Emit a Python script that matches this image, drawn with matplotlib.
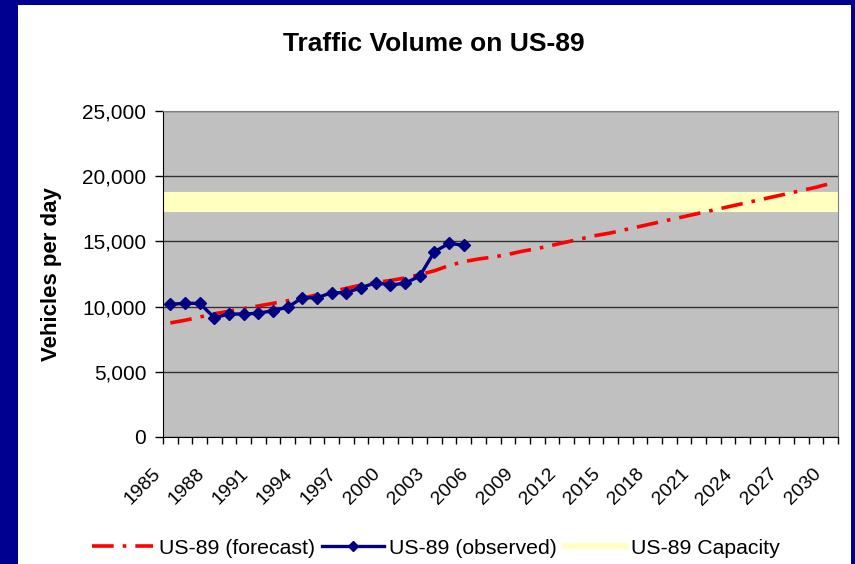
import matplotlib
matplotlib.use('Agg')
import matplotlib.pyplot as plt
import matplotlib.transforms as mtrans
from matplotlib.patches import Rectangle
from matplotlib.lines import Line2D
from matplotlib.ticker import FuncFormatter
import numpy as np

plt.rcParams['font.family'] = ['Liberation Sans', 'DejaVu Sans']

# data
years = list(range(1985, 2031))
forecast = [8750, 8950, 9200, 9450, 9650, 9850, 10050, 10250, 10450, 10650,
            10900, 11150, 11400, 11650, 11850, 12000, 12200, 12450, 12750, 13150,
            13450, 13650, 13800, 14000, 14250, 14450, 14700, 14950, 15200, 15450,
            15650, 15900, 16150, 16400, 16650, 16900, 17150, 17400, 17650, 17900,
            18150, 18400, 18650, 18900, 19150, 19450]
obs_years = list(range(1985, 2006))
observed = [10180, 10250, 10250, 9150, 9430, 9430, 9490, 9690, 9950, 10680,
            10680, 11070, 11070, 11450, 11830, 11660, 11790, 12350, 14210, 14850,
            14700]
capacity = [18000] * len(years)
label_years = years[::3]

W, H = 855, 564
fig = plt.figure(figsize=(W / 100, H / 100), dpi=100)
fig.patch.set_facecolor('#000090')
fig.patches.append(Rectangle((18 / W, -0.05), (851 - 18) / W, 1.05 - 5 / H,
                             transform=fig.transFigure, facecolor='white',
                             edgecolor='none', zorder=-10))

ax = fig.add_axes([163 / W, (H - 437) / H, 675 / W, 326 / H])
ax.set_facecolor('#C0C0C0')

cap_line, = ax.plot(years, capacity, color='#FFFFC0', lw=14.5,
                    solid_capstyle='projecting', zorder=2)
fc_line, = ax.plot(years, forecast, color='#FF0000', lw=2.6,
                   dashes=[6, 2.5, 1, 2.5], zorder=3)
ob_line, = ax.plot(obs_years, observed, color='#000080', lw=2.4,
                   marker='D', markersize=6.5, zorder=4)

ax.set_xlim(1984.5, 2030.5)
ax.set_ylim(0, 25000)
ax.set_yticks(range(0, 25001, 5000))
ax.yaxis.set_major_formatter(FuncFormatter(lambda v, p: f'{v:,.0f}'))
ax.grid(axis='y', color='#333333', lw=1)
ax.set_axisbelow(True)

ax.set_xticks(label_years)
ax.set_xticklabels([str(y) for y in label_years], rotation=45,
                   ha='right', va='top', fontsize=14)
ax.set_xticks(np.arange(1984.5, 2031, 1), minor=True)
ax.tick_params(axis='x', which='major', length=0, pad=20.5)
ax.tick_params(axis='x', which='minor', length=5, width=1, direction='out')
ax.tick_params(axis='y', length=6, width=1, pad=6, labelsize=15)
offset = mtrans.ScaledTranslation(-6.5 / 100, 0, fig.dpi_scale_trans)
for lab in ax.get_xticklabels():
    lab.set_transform(lab.get_transform() + offset)

for s in ['left', 'bottom']:
    ax.spines[s].set_color('black')
for s in ['top', 'right']:
    ax.spines[s].set_color('#808080')

fig.text(434 / W, 1 - 44 / H, 'Traffic Volume on US-89', ha='center',
         va='center', fontsize=19, fontweight='bold')
fig.text(52 / W, 1 - 274 / H, 'Vehicles per day', ha='center', va='center',
         rotation=90, fontsize=16, fontweight='bold')

handles = [Line2D([], [], color='#FF0000', lw=2.6, dashes=[6, 2.5, 1, 2.5]),
           Line2D([], [], color='#000080', lw=2.4, marker='D', markersize=5),
           Line2D([], [], color='#FFFFC0', lw=4)]
labels = ['US-89 (forecast)', 'US-89 (observed)', 'US-89 Capacity']
fig.legend(handles, labels, loc='center', bbox_to_anchor=(436 / W, 16 / H),
           ncol=3, frameon=False, fontsize=15.3, handlelength=2.9,
           handletextpad=0.25, columnspacing=0.35)

fig.savefig('out.png', dpi=100, facecolor=fig.get_facecolor())
